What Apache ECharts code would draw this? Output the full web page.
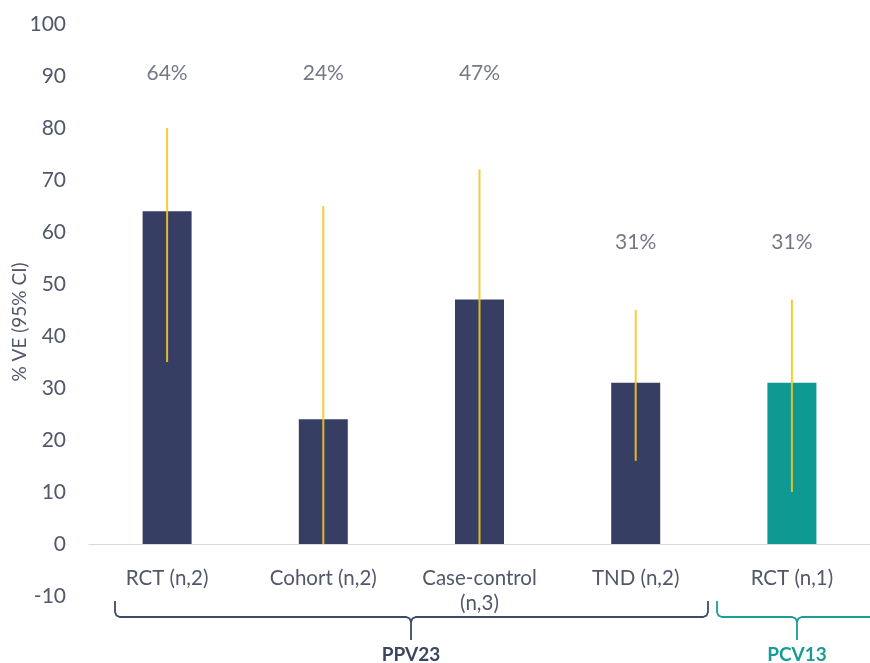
<!DOCTYPE html>
<html>
<head>
<meta charset="utf-8">
<script src="https://cdn.jsdelivr.net/npm/echarts@6/dist/echarts.min.js"></script>
<style>
  html, body { margin: 0; padding: 0; background: #ffffff; }
  #chart { width: 870px; height: 663px; }
</style>
</head>
<body>
<div id="chart"></div>
<script>
// Vaccine effectiveness by study design
const categories = ['RCT (n,2)', 'Cohort (n,2)', 'Case-control\n(n,3)', 'TND (n,2)', 'RCT (n,1)'];
const vaccine = ['PPV23', 'PPV23', 'PPV23', 'PPV23', 'PCV13'];
const ve = [64, 24, 47, 31, 31];
const ciLow = [35, 0, 0, 16, 10];
const ciHigh = [80, 65, 72, 45, 47];
const yTicks = { min: -10, max: 100, interval: 10 };

const NAVY = '#363f63';
const TEAL = '#0e9a93';
const GOLD = '#f5c422';
const TEXT = '#515869';
const FONT = 'Lato, "Noto Sans", sans-serif';

// Rows at which the percentage captions sit (axis units)
const captionRow = [90.5, 90.5, 90.5, 58, 58];

// Brace outline: rounded ends, a downward tick in the middle
function brace(x0, x1, xm, openRight) {
  const y = 617, top = 601, r = 5;
  const pts = [[x0, top], [x0, y - r], [x0 + 1.5, y - 1.5], [x0 + r, y],
               [xm - r, y], [xm - 1.5, y + 1.5], [xm, y + r], [xm, 640],
               [xm, y + r], [xm + 1.5, y + 1.5], [xm + r, y]];
  if (openRight) {
    pts.push([x1, y]);
  } else {
    pts.push([x1 - r, y], [x1 - 1.5, y - 1.5], [x1, y - r], [x1, top]);
  }
  return pts;
}

const chart = echarts.init(document.getElementById('chart'), null, { renderer: 'canvas' });

const GRID_TOP = 24, GRID_BOTTOM = 67, H = 663;
// the category axis sits on the zero line
const zeroOffset = (H - GRID_TOP - GRID_BOTTOM) * (0 - yTicks.min) / (yTicks.max - yTicks.min);

const option = {
  animation: false,
  backgroundColor: '#ffffff',
  textStyle: { fontFamily: FONT },
  grid: { left: 89, right: -5, top: GRID_TOP, bottom: GRID_BOTTOM, containLabel: false },
  xAxis: {
    type: 'category',
    data: categories,
    offset: -zeroOffset,
    axisLine: { onZero: false, lineStyle: { color: '#d9d9d9', width: 1 } },
    axisTick: { show: false },
    axisLabel: {
      color: TEXT, fontSize: 20.5, fontFamily: FONT, margin: 22, lineHeight: 25,
      interval: 0
    },
    splitLine: { show: false }
  },
  yAxis: {
    type: 'value',
    min: yTicks.min, max: yTicks.max, interval: yTicks.interval,
    axisLine: { show: false },
    axisTick: { show: false },
    splitLine: { show: false },
    axisLabel: { color: TEXT, fontSize: 21, fontFamily: FONT, margin: 23 }
  },
  series: [
    {
      type: 'bar',
      barWidth: 49,
      data: ve.map((v, i) => ({
        value: v,
        itemStyle: { color: vaccine[i] === 'PCV13' ? TEAL : NAVY }
      })),
      z: 2
    },
    {
      type: 'custom',
      z: 3,
      data: ciLow.map((lo, i) => [i, lo, ciHigh[i]]),
      renderItem: function (params, api) {
        const p1 = api.coord([api.value(0), api.value(1)]);
        const p2 = api.coord([api.value(0), api.value(2)]);
        return {
          type: 'line',
          shape: { x1: p1[0], y1: p1[1], x2: p2[0], y2: p2[1] },
          style: { stroke: GOLD, lineWidth: 2, opacity: 0.9 }
        };
      }
    },
    {
      type: 'scatter',
      symbolSize: 0,
      silent: true,
      data: ve.map((v, i) => [i, captionRow[i], v]),
      label: {
        show: true,
        position: 'inside',
        color: TEXT,
        fontSize: 21,
        fontFamily: FONT,
        formatter: p => p.value[2] + '%'
      }
    }
  ],
  graphic: [
    {
      type: 'text',
      x: 20, y: 322,
      rotation: Math.PI / 2,
      style: {
        text: '% VE (95% CI)', fill: TEXT, font: '19px ' + FONT,
        align: 'center', verticalAlign: 'middle'
      }
    },
    {
      type: 'polyline',
      shape: { points: brace(115, 708, 411, false) },
      style: { stroke: '#3f4a68', lineWidth: 1.8, fill: null }
    },
    {
      type: 'polyline',
      shape: { points: brace(717, 880, 797, true) },
      style: { stroke: '#1b9e98', lineWidth: 1.8, fill: null }
    },
    {
      type: 'text',
      x: 411, y: 655,
      style: {
        text: 'PPV23', fill: '#3b4660', font: 'bold 19px ' + FONT,
        align: 'center', verticalAlign: 'middle'
      }
    },
    {
      type: 'text',
      x: 797, y: 655,
      style: {
        text: 'PCV13', fill: '#189c96', font: 'bold 19px ' + FONT,
        align: 'center', verticalAlign: 'middle'
      }
    }
  ]
};

chart.setOption(option);
</script>
</body>
</html>
